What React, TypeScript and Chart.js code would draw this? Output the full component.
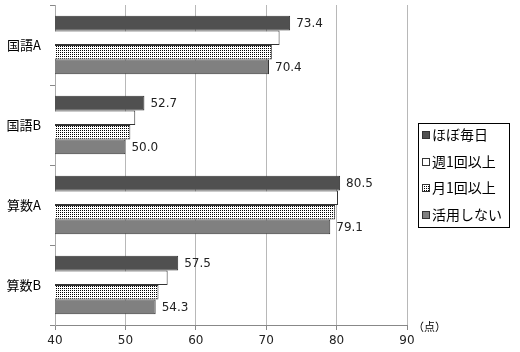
import React, { useEffect, useRef } from "react";
import { Chart, registerables } from "chart.js";

Chart.register(...registerables);

const categories = ["国語A", "国語B", "算数A", "算数B"];
const seriesNames = ["ほぼ毎日", "週1回以上", "月1回以上", "活用しない"];
const daily = [73.4, 52.7, 80.5, 57.5];
const weekly = [71.9, 51.4, 80.2, 56.0];
const monthly = [70.8, 50.7, 79.8, 54.7];
const never = [70.4, 50.0, 79.1, 54.3];
const xTicks = [40, 50, 60, 70, 80, 90];
const unitLabel = "（点）";

function makePattern(): CanvasPattern | string {
  const c = document.createElement("canvas");
  c.width = 2;
  c.height = 2;
  const ctx = c.getContext("2d");
  if (!ctx) return "#aaa";
  ctx.fillStyle = "#ffffff";
  ctx.fillRect(0, 0, 2, 2);
  ctx.fillStyle = "#000000";
  ctx.fillRect(0, 0, 1, 1);
  const p = ctx.createPattern(c, "repeat");
  return p || "#aaa";
}

export default function App() {
  const ref = useRef<HTMLCanvasElement | null>(null);
  useEffect(() => {
    const canvas = ref.current;
    if (!canvas) return;
    const pattern = makePattern();
    const fills: any[] = ["#505050", "#ffffff", pattern, "#808080"];
    const labelFont = "12px 'DejaVu Sans', sans-serif";
    const cjkFont = "14px 'Noto Sans CJK JP', sans-serif";

    const valueLabels = {
      id: "valueLabels",
      afterDatasetsDraw(chart: any) {
        const ctx = chart.ctx;
        ctx.save();
        ctx.font = labelFont;
        ctx.fillStyle = "#222";
        ctx.textBaseline = "middle";
        ctx.textAlign = "left";
        [0, 3].forEach((di) => {
          const meta = chart.getDatasetMeta(di);
          meta.data.forEach((bar: any, i: number) => {
            const v = chart.data.datasets[di].data[i] as number;
            ctx.fillText(v.toFixed(1), bar.x + 6, bar.y + 1);
          });
        });
        ctx.restore();
      },
    };

    const customLegend = {
      id: "customLegend",
      afterDraw(chart: any) {
        const ctx = chart.ctx;
        ctx.save();
        ctx.strokeStyle = "#000";
        ctx.lineWidth = 1;
        ctx.strokeRect(418.5, 123.5, 91, 104);
        ctx.font = cjkFont;
        ctx.textBaseline = "middle";
        ctx.textAlign = "left";
        const ys = [135, 162, 188, 215];
        seriesNames.forEach((name, i) => {
          const y = ys[i];
          ctx.fillStyle = fills[i];
          ctx.fillRect(422, y - 4, 8, 8);
          ctx.strokeStyle = "#333";
          ctx.strokeRect(422.5, y - 3.5, 7, 7);
          ctx.fillStyle = "#000";
          ctx.fillText(name, 432, y);
        });
        ctx.font = "11px 'Noto Sans CJK JP', sans-serif";
        ctx.fillText(unitLabel, 413, 327);
        ctx.restore();
      },
    };

    const chart = new Chart(canvas, {
      type: "bar",
      data: {
        labels: categories,
        datasets: [daily, weekly, monthly, never].map((d, i) => ({
          label: seriesNames[i],
          data: d,
          backgroundColor: fills[i],
          borderColor: "#333333",
          borderWidth: 1,
          borderSkipped: false,
          categoryPercentage: 0.73,
          barPercentage: 1,
        })),
      },
      options: {
        indexAxis: "y",
        responsive: false,
        animation: false,
        layout: { padding: { top: 5, right: 113, left: 0, bottom: 0 } },
        plugins: { legend: { display: false }, tooltip: { enabled: false } },
        scales: {
          x: {
            min: 40,
            max: 90,
            afterBuildTicks(scale: any) {
              scale.ticks = xTicks.map((v) => ({ value: v }));
            },
            afterFit(scale: any) {
              scale.height = 27;
            },
            grid: {
              color: "#b8b8b8",
              lineWidth: 1,
              drawTicks: true,
              tickLength: 5,
              tickColor: "#888",
            },
            border: { color: "#888", width: 1 },
            ticks: {
              color: "#222",
              font: { family: "'DejaVu Sans', sans-serif", size: 12 },
              padding: 4,
              maxRotation: 0,
            },
          },
          y: {
            afterFit(scale: any) {
              scale.width = 55;
              scale.paddingTop = 0;
              scale.paddingBottom = 0;
            },
            grid: {
              drawOnChartArea: false,
              drawTicks: true,
              tickLength: 5,
              offset: true,
              tickColor: "#888",
            },
            border: { color: "#aaa", width: 1 },
            ticks: {
              color: "#000",
              font: { family: "'Noto Sans CJK JP', sans-serif", size: 13 },
              padding: 9,
            },
          },
        },
      },
      plugins: [valueLabels, customLegend],
    } as any);
    return () => chart.destroy();
  }, []);

  return (
    <div style={{ position: "absolute", left: 0, top: 0, width: 520, height: 352, background: "#fff" }}>
      <canvas ref={ref} width={520} height={352} style={{ width: 520, height: 352 }} />
    </div>
  );
}
